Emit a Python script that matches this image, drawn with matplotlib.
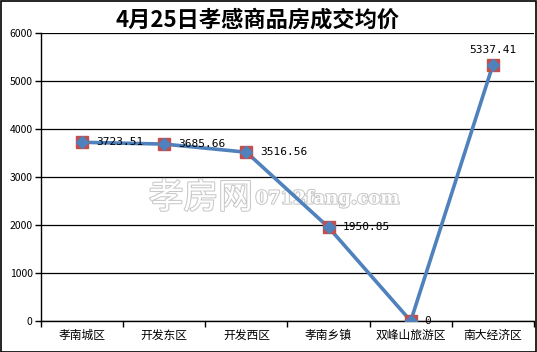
import numpy as np
import matplotlib.pyplot as plt
from matplotlib import patheffects

plt.rcParams['font.family'] = ['Noto Sans CJK SC', 'DejaVu Sans']

areas = ['孝南城区', '开发东区', '开发西区', '孝南乡镇', '双峰山旅游区', '南大经济区']
prices = [3723.51, 3685.66, 3516.56, 1950.85, 0, 5337.41]
labels = ['3723.51', '3685.66', '3516.56', '1950.85', '0', '5337.41']
yticks = [0, 1000, 2000, 3000, 4000, 5000, 6000]

fig = plt.figure(figsize=(5.37, 3.52), dpi=100)
ax = fig.add_axes([41/537, 31/352, 493/537, 288/352])

x = np.arange(len(areas))
ax.plot(x, prices, color='#4F81BD', lw=2.6, zorder=3)
ax.plot(x, prices, ls='none', marker='s', ms=8, mfc='#C0504D', mec='#C0504D', zorder=4)
ax.plot(x, prices, ls='none', marker='D', ms=6.5, mfc='#4F81BD', mec='#4F81BD', zorder=5)

# data labels: right of the point, last one above it
for i, (v, t) in enumerate(zip(prices, labels)):
    if i == len(prices) - 1:
        ax.annotate(t, (i, v), xytext=(0, 10), textcoords='offset pixels',
                    ha='center', va='bottom', fontsize=8, family='DejaVu Sans Mono', zorder=6)
    else:
        ax.annotate(t, (i, v), xytext=(14, 0), textcoords='offset pixels',
                    ha='left', va='center', fontsize=8, family='DejaVu Sans Mono', zorder=6)

ax.set_xlim(-0.5, len(areas) - 0.5)
ax.set_ylim(0, 6000)
ax.set_yticks(yticks)
ax.set_yticklabels([str(t) for t in yticks], fontsize=7.5)
ax.set_xticks(x)
ax.set_xticklabels(areas, fontsize=8.5)
ax.set_xticks(np.arange(len(areas) + 1) - 0.5, minor=True)
ax.tick_params(axis='x', which='major', length=0, pad=6)
ax.tick_params(axis='x', which='minor', length=4, width=1, direction='out')
ax.tick_params(axis='y', length=4, width=1, direction='out', pad=2)
ax.grid(axis='y', color='black', lw=0.9, zorder=1)
for s in ['top', 'right']:
    ax.spines[s].set_visible(False)
for s in ['left', 'bottom']:
    ax.spines[s].set_linewidth(1)
    ax.spines[s].set_zorder(2)

# watermark
ax.text(0.43, 0.425, '孝房网', transform=ax.transAxes, fontsize=25, color='white',
        ha='right', va='center', zorder=2,
        path_effects=[patheffects.withStroke(linewidth=1.5, foreground='#c8c8c8')])
ax.text(0.435, 0.425, '0712fang.com', transform=ax.transAxes, fontsize=13, color='white',
        ha='left', va='center', family='DejaVu Serif', fontweight='bold', zorder=2,
        path_effects=[patheffects.withStroke(linewidth=1.5, foreground='#c8c8c8')])

fig.text(258/537, 1 - 20/352, '4月25日孝感商品房成交均价', ha='center', va='center',
         fontsize=16, fontweight='bold')

# outer border
fig.patches.append(plt.Rectangle((0.001, 0.001), 0.997, 0.997, transform=fig.transFigure,
                                 fill=False, ec='black', lw=1.2))

fig.savefig('out.png', dpi=100)
